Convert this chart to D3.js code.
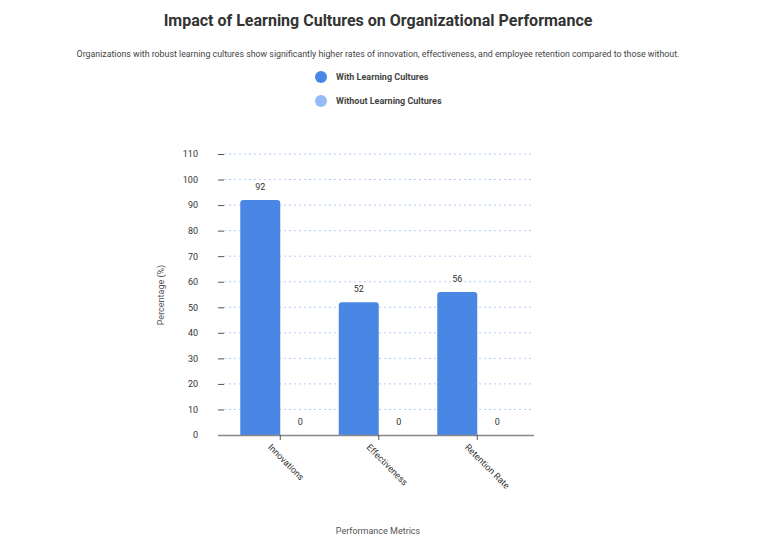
<!DOCTYPE html>
<html><head><meta charset="utf-8">
<script src="https://cdn.jsdelivr.net/npm/d3@7"></script>
<style>body{margin:0;background:#fff;font-family:Roboto,sans-serif}</style>
</head><body><svg id="c" width="772" height="542"></svg>
<script>
const categories=["Innovations","Effectiveness","Retention Rate"];
const seriesNames=["With Learning Cultures","Without Learning Cultures"];
const withValues=[92,52,56];
const withoutValues=[0,0,0];
const yTicks=[0,10,20,30,40,50,60,70,80,90,100,110];
const colors=["#4a86e4","#94bbf7"];

const svg=d3.select("#c");
svg.append("text").attr("x",378).attr("y",26).attr("text-anchor","middle").attr("font-size",16).attr("font-weight","bold").attr("fill","#333").text("Impact of Learning Cultures on Organizational Performance");
svg.append("text").attr("x",378).attr("y",57).attr("text-anchor","middle").attr("font-size",8.8).attr("fill","#444").text("Organizations with robust learning cultures show significantly higher rates of innovation, effectiveness, and employee retention compared to those without.");
seriesNames.forEach((s,i)=>{
  const g=svg.append("g").attr("transform",`translate(321,${77+i*24})`);
  g.append("circle").attr("r",6).attr("fill",colors[i]);
  g.append("text").attr("x",15).attr("y",3).attr("font-size",9).attr("font-weight","bold").attr("fill","#444").text(s);
});
const L=218,R=534,T=154,B=435;
const x=d3.scaleBand().domain(categories).range([231,526.5]);
const y=d3.scaleLinear().domain([0,110]).range([B,T]);
const xs=d3.scaleBand().domain([0,1]).range([0,80]);
const g=svg.append("g");
g.selectAll(".grid").data(yTicks.slice(1)).join("line").attr("x1",L+6).attr("x2",R).attr("y1",d=>y(d)).attr("y2",d=>y(d)).attr("stroke","#b3cdf5").attr("stroke-dasharray","2,3");
const ya=g.append("g").attr("transform",`translate(${L+6},0)`).call(d3.axisLeft(y).tickValues(yTicks).tickSize(6).tickPadding(20));
ya.select(".domain").remove();
ya.selectAll("line").attr("stroke","#555");
ya.selectAll("text").attr("font-size",9).attr("fill","#333").attr("font-family","Roboto");
const groups=[withValues,withoutValues];
categories.forEach((c,ci)=>{
  const cx=x(c)+x.bandwidth()/2;
  groups.forEach((vals,si)=>{
    const bx=cx-40+xs(si), v=vals[ci];
    if(v>0) g.append("path").attr("fill",colors[si]).attr("d",`M${bx},${B}V${y(v)+3}q0,-3 3,-3h${xs.bandwidth()-6}q3,0 3,3V${B}Z`);
    g.append("text").attr("x",bx+xs.bandwidth()/2).attr("y",y(v)-10).attr("text-anchor","middle").attr("font-size",9).attr("fill","#333").text(v);
  });
});
const xa=g.append("g").attr("transform",`translate(0,${B})`).call(d3.axisBottom(x).tickSize(5));
xa.select(".domain").attr("d",`M${L},0.5H${R}`).attr("stroke","#888").attr("stroke-width",1.5);
xa.selectAll("line").attr("stroke","#555");
xa.selectAll("text").attr("font-size",9).attr("fill","#333").attr("font-family","Roboto").attr("text-anchor","start").attr("transform","translate(-4,4) rotate(45)").attr("dy","0.5em").attr("dx","0");
svg.append("text").attr("transform","translate(164,295) rotate(-90)").attr("text-anchor","middle").attr("font-size",9).attr("fill","#555").text("Percentage (%)");
svg.append("text").attr("x",378).attr("y",534).attr("text-anchor","middle").attr("font-size",9).attr("fill","#555").text("Performance Metrics");
</script></body></html>
